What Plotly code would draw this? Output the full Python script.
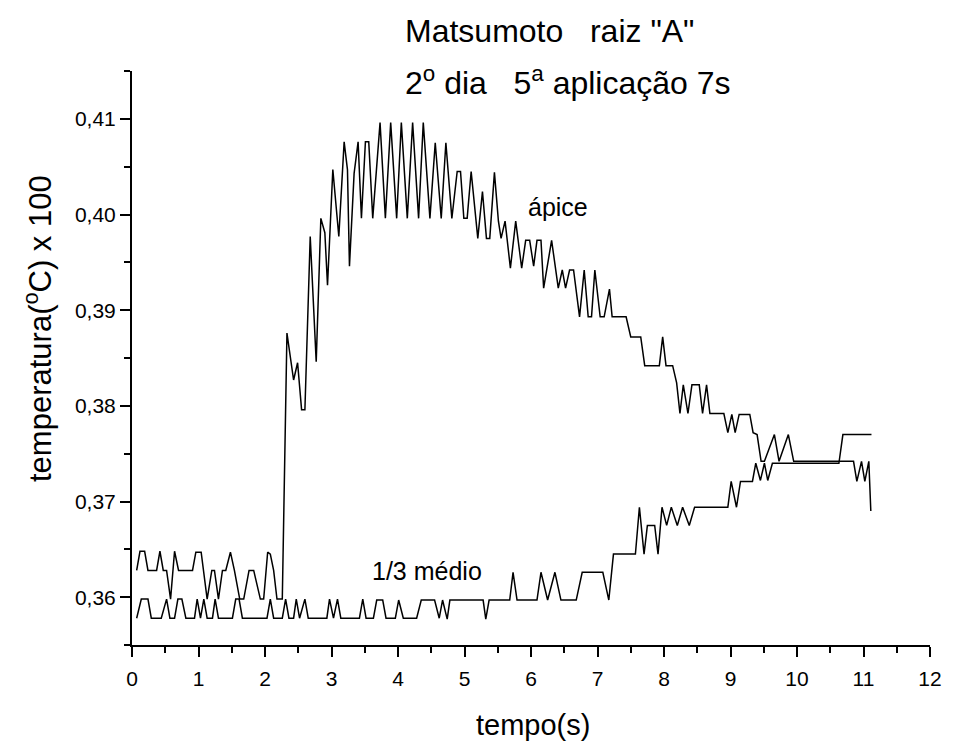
import plotly.graph_objects as go

# ---- data ----
apice_t = [0.07, 0.12, 0.19, 0.24, 0.37, 0.42, 0.47, 0.52, 0.58, 0.64, 0.70, 0.91, 0.96, 1.04,
           1.13, 1.20, 1.24, 1.30, 1.36, 1.41, 1.48, 1.54, 1.62, 1.68, 1.76, 1.83, 1.93, 1.98,
           2.04, 2.08, 2.13, 2.18, 2.26, 2.33, 2.43, 2.49, 2.55, 2.60, 2.68, 2.77, 2.84, 2.90,
           2.94, 3.02, 3.11, 3.19, 3.24, 3.27, 3.34, 3.40, 3.45, 3.51, 3.56, 3.62, 3.73, 3.81,
           3.89, 3.98, 4.05, 4.14, 4.22, 4.31, 4.38, 4.48, 4.56, 4.65, 4.72, 4.81, 4.89, 4.94,
           4.99, 5.04, 5.10, 5.20, 5.27, 5.33, 5.38, 5.45, 5.51, 5.55, 5.61, 5.69, 5.77, 5.86,
           5.92, 5.98, 6.04, 6.09, 6.15, 6.19, 6.31, 6.41, 6.47, 6.52, 6.58, 6.64, 6.73, 6.80,
           6.86, 6.91, 6.96, 7.04, 7.10, 7.18, 7.22, 7.43, 7.50, 7.65, 7.71, 7.93, 7.98, 8.03,
           8.13, 8.19, 8.24, 8.29, 8.36, 8.42, 8.53, 8.58, 8.64, 8.69, 8.90, 8.96, 9.02, 9.07,
           9.13, 9.29, 9.34, 9.40, 9.46, 9.51, 9.66, 9.73, 9.87, 9.95, 10.85, 10.90, 10.97,
           11.02, 11.08, 11.11]
apice_v = [0.3628, 0.3648, 0.3648, 0.3628, 0.3628, 0.3648, 0.3628, 0.3628, 0.3598, 0.3648,
           0.3628, 0.3628, 0.3647, 0.3647, 0.3598, 0.3628, 0.3628, 0.3598, 0.3628, 0.3628,
           0.3647, 0.3628, 0.3598, 0.3598, 0.3628, 0.3628, 0.3598, 0.3598, 0.3647, 0.3645,
           0.3628, 0.3598, 0.3598, 0.3876, 0.3827, 0.3845, 0.3796, 0.3796, 0.3977, 0.3846,
           0.3996, 0.3981, 0.3926, 0.4047, 0.3977, 0.4076, 0.4047, 0.3946, 0.4043, 0.4076,
           0.3996, 0.4076, 0.4076, 0.3996, 0.4096, 0.3996, 0.4096, 0.3996, 0.4096, 0.3996,
           0.4096, 0.3996, 0.4096, 0.3996, 0.4075, 0.3996, 0.4075, 0.3996, 0.4045, 0.4045,
           0.3996, 0.3996, 0.4045, 0.3975, 0.4024, 0.3975, 0.3975, 0.4044, 0.3993, 0.3975,
           0.3993, 0.3944, 0.3993, 0.3944, 0.3973, 0.3973, 0.3946, 0.3973, 0.3973, 0.3923,
           0.3973, 0.3923, 0.3942, 0.3923, 0.3942, 0.3942, 0.3893, 0.3942, 0.3893, 0.3893,
           0.3942, 0.3893, 0.3893, 0.3922, 0.3893, 0.3893, 0.3872, 0.3872, 0.3842, 0.3842,
           0.3872, 0.3842, 0.3842, 0.3824, 0.3792, 0.3822, 0.3792, 0.3822, 0.3822, 0.3792,
           0.3822, 0.3792, 0.3792, 0.3772, 0.3791, 0.3772, 0.3791, 0.3791, 0.3772, 0.3770,
           0.3742, 0.3742, 0.3770, 0.3742, 0.3770, 0.3742, 0.3742, 0.3721, 0.3742, 0.3721,
           0.3742, 0.3690]

medio_t = [0.07, 0.14, 0.24, 0.29, 0.44, 0.52, 0.57, 0.64, 0.69, 0.75, 0.81, 0.94, 0.98, 1.03,
           1.08, 1.13, 1.21, 1.25, 1.30, 1.51, 1.56, 1.61, 1.66, 2.03, 2.08, 2.13, 2.26, 2.31,
           2.36, 2.43, 2.47, 2.52, 2.60, 2.65, 2.93, 2.97, 3.03, 3.09, 3.14, 3.42, 3.47, 3.52,
           3.63, 3.68, 3.77, 3.82, 3.96, 4.01, 4.08, 4.28, 4.35, 4.55, 4.62, 4.67, 4.74, 4.78,
           5.28, 5.32, 5.37, 5.68, 5.73, 5.79, 6.09, 6.15, 6.25, 6.36, 6.45, 6.68, 6.77, 7.08,
           7.17, 7.24, 7.57, 7.63, 7.70, 7.75, 7.86, 7.91, 7.97, 8.04, 8.11, 8.20, 8.28, 8.38,
           8.46, 8.96, 9.01, 9.09, 9.15, 9.33, 9.38, 9.45, 9.51, 9.56, 9.63, 10.63, 10.69, 11.12]
medio_v = [0.3578, 0.3598, 0.3598, 0.3578, 0.3578, 0.3598, 0.3578, 0.3578, 0.3598, 0.3598,
           0.3578, 0.3578, 0.3598, 0.3578, 0.3598, 0.3578, 0.3578, 0.3598, 0.3578, 0.3578,
           0.3598, 0.3598, 0.3578, 0.3578, 0.3598, 0.3578, 0.3578, 0.3598, 0.3578, 0.3578,
           0.3598, 0.3578, 0.3598, 0.3578, 0.3578, 0.3598, 0.3578, 0.3598, 0.3578, 0.3578,
           0.3598, 0.3578, 0.3578, 0.3597, 0.3597, 0.3578, 0.3578, 0.3597, 0.3578, 0.3578,
           0.3597, 0.3597, 0.3578, 0.3597, 0.3577, 0.3597, 0.3597, 0.3577, 0.3597, 0.3597,
           0.3626, 0.3597, 0.3597, 0.3626, 0.3597, 0.3626, 0.3597, 0.3597, 0.3626, 0.3626,
           0.3597, 0.3645, 0.3645, 0.3694, 0.3645, 0.3675, 0.3675, 0.3645, 0.3694, 0.3675,
           0.3694, 0.3675, 0.3694, 0.3675, 0.3694, 0.3694, 0.3721, 0.3694, 0.3721, 0.3721,
           0.3740, 0.3722, 0.3740, 0.3722, 0.3740, 0.3740, 0.3770, 0.3770]

x_tickvals = [0, 1, 2, 3, 4, 5, 6, 7, 8, 9, 10, 11, 12]
x_ticktext = ["0", "1", "2", "3", "4", "5", "6", "7", "8", "9", "10", "11", "12"]
x_minorvals = [0.5, 1.5, 2.5, 3.5, 4.5, 5.5, 6.5, 7.5, 8.5, 9.5, 10.5, 11.5]
y_tickvals = [0.36, 0.37, 0.38, 0.39, 0.40, 0.41]
y_ticktext = ["0,36", "0,37", "0,38", "0,39", "0,40", "0,41"]
y_minorvals = [0.355, 0.365, 0.375, 0.385, 0.395, 0.405, 0.415]

FONT = "Arial, Liberation Sans, Helvetica, sans-serif"

fig = go.Figure()
fig.add_trace(go.Scatter(x=apice_t, y=apice_v, mode="lines", name="ápice",
                         line=dict(color="black", width=1.5)))
fig.add_trace(go.Scatter(x=medio_t, y=medio_v, mode="lines", name="1/3 médio",
                         line=dict(color="black", width=1.5)))

axis_common = dict(showline=True, linewidth=2, linecolor="black", showgrid=False,
                   zeroline=False, ticks="outside", ticklen=10, tickwidth=1.5,
                   tickcolor="black", tickfont=dict(size=21, family=FONT, color="black"))

fig.update_xaxes(range=[0, 12], tickmode="array", tickvals=x_tickvals, ticktext=x_ticktext,
                 ticklabelstandoff=4,
                 minor=dict(tickmode="array", tickvals=x_minorvals, ticks="outside",
                            ticklen=6, tickwidth=1.5, tickcolor="black"),
                 **axis_common)
fig.update_yaxes(range=[0.355, 0.415], tickmode="array", tickvals=y_tickvals, ticktext=y_ticktext,
                 minor=dict(tickmode="array", tickvals=y_minorvals, ticks="outside",
                            ticklen=6, tickwidth=1.5, tickcolor="black"),
                 **axis_common)

annots = [
    dict(text="Matsumoto\u00a0\u00a0\u00a0raiz \"A\"", x=0.339, y=1.069, xanchor="left",
         yanchor="middle", font=dict(size=32)),
    dict(text="2<sup>o</sup> dia\u00a0\u00a0\u00a05<sup>a</sup> aplicação 7s", x=0.339, y=0.982,
         xanchor="left", yanchor="middle", font=dict(size=32)),
    dict(text="temperatura(<sup>o</sup>C) x 100", x=-0.118, y=0.552, textangle=-90,
         xanchor="center", yanchor="middle", font=dict(size=31)),
    dict(text="tempo(s)", x=0.502, y=-0.139, xanchor="center", yanchor="middle",
         font=dict(size=29)),
]
for a in annots:
    a.update(xref="paper", yref="paper", showarrow=False)
    a["font"].update(family=FONT, color="black")

fig.update_layout(
    width=954, height=747,
    margin=dict(l=132, r=17, t=71, b=102),
    plot_bgcolor="white", paper_bgcolor="white",
    showlegend=False,
    font=dict(family=FONT, color="black"),
    annotations=annots,
)
fig.add_annotation(x=6.40, y=0.4008, xref="x", yref="y", text="ápice", showarrow=False,
                   font=dict(size=25, family=FONT, color="black"))
fig.add_annotation(x=4.44, y=0.3627, xref="x", yref="y", text="1/3 médio", showarrow=False,
                   font=dict(size=25, family=FONT, color="black"))

fig.write_html("out.html")
